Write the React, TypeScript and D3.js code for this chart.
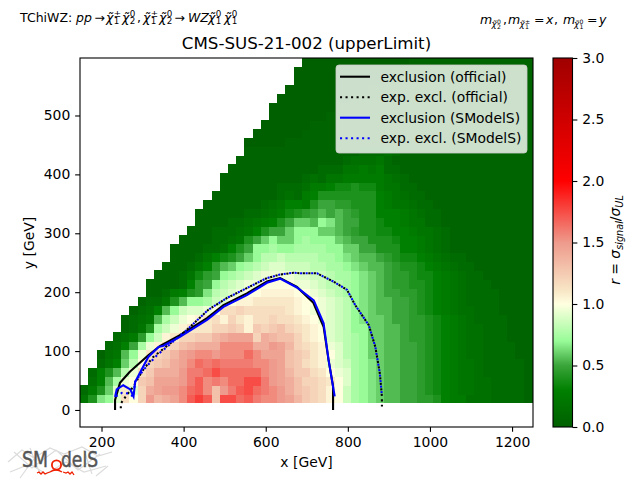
import React, { useEffect, useRef } from "react";
import * as d3 from "d3";

// r values, bottom row first. One char per cell, see levelChars
const levelChars = "0123456789abcdefghijklmnopqrstuvwxyzABCD";
const levelStep = 0.05;
const rowFirstCol = [0, 0, 1, 1, 2, 2, 3, 4, 5, 5, 6, 7, 8, 8, 9, 10, 11, 11, 12, 13, 14, 14, 15, 16, 17, 17, 18, 19, 20, 20, 21, 22, 23, 23, 24, 25, 26, 26, 27];
const heatRows = [
	"48deinkourstvyAyqzzxywvvutrponlkhfedcbbaa998655333222211",
	"258cimiostuuvxyvquwyzxwvusqponlkhfedcbbaa987654433222211",
	"36bfjkpqtttuwyvwvxxzzwutsqoonmkifedcbbaa987654433222211",
	"268bgjnpsssuwwxzxxxxxvutrppnmkjifedcbbaa987654432222211",
	"246cgkopqstvxwxwwwwvvutqpnmljihfedcbbaa987654432222211",
	"134bejmoprtuvvuvvvxvtttqpomlkigfeccbbaa987654332222111",
	"236afjlnoqrsssvvvvssutronmljigfeccbbaa987654332222111",
	"2359ehlmoopprstttosrqqomlkihgfeccbba9987654332221111",
	"1248fhjlmmmoopolpopqonmlkihgeeccbba9987654332221111",
	"1234bfhjklmnlomlnnonnmlkjihgedccbaa9987654322221111",
	"1236behiijknnonnnnnmlkjjihgedcbbaa9876543322211111",
	"12248beefhikllmmmmmlkkjihgedcbbaa9876543222211111",
	"1125689dghijkkllllkkjihgfedcbaa99876543222211111",
	"1111269aeghijjkkkkjjihggfedcba998876543222111111",
	"1112479aefghijjjjiihhgffedcba998776543221111111",
	"1112469bcefghiihhhggffedcbba988765432211111111",
	"11124678acegghggggffedcbba9877654322111111111",
	"111122368aeefeeffffeeccaa88866543211111111111",
	"111122348aceccefeeecbaa888766543211111111111",
	"1112223468aaceeeccba98877665443211111111111",
	"11112234568accbedbaa8876654422111111111111",
	"11111122345789ababa98866654322111111111111",
	"11111112346658aa9988865443221111111111111",
	"1111111123256888888865432211111111111111",
	"1111111222355677877544221111111111111111",
	"11111111112324455555432111111111111111111",
	"111111111112224454522111111111111111111",
	"1111111111111233342111111111111111111111",
	"1111111111111122232111111111111111111111",
	"00000111111111111111111111111111111111",
	"0000001111111111111111111111111111111",
	"00000011111111111111111111111111111",
	"000000011111111111111111111111111",
	"000000001111111111111111111111111",
	"00000000011111111111111111111111",
	"0000000000111111111111111111111",
	"000000000001111111111111111111",
	"000000000000111111111111111111",
	"00000000000001111111111111111",
];
const cellX0 = 148;
const cellW = 20;
const cellY0 = 12;
const cellH = 15;

const exclOfficial: [number, number][] = [[233, 0], [233, 17], [245, 46], [269, 65], [314, 93], [343, 109], [391, 127], [457, 156], [497, 178], [554, 198], [603, 218], [635, 224], [676, 209], [716, 182], [741, 141], [753, 85], [764, 40], [764, 0]];
const expOfficial: [number, number][] = [[247, 3], [247, 11], [261, 25], [278, 40], [298, 65], [326, 90], [367, 113], [408, 136], [460, 170], [505, 190], [554, 207], [603, 224], [635, 230], [668, 233], [684, 232], [725, 232], [765, 218], [798, 204], [818, 178], [851, 144], [867, 107], [878, 62], [883, 23], [883, 6]];
const exclSModelS: [number, number][] = [[233, 22], [237, 35], [253, 42], [270, 35], [278, 23], [282, 48], [314, 90], [339, 107], [351, 109], [391, 124], [457, 153], [497, 175], [554, 195], [603, 216], [635, 223], [676, 208], [717, 186], [741, 147], [753, 85], [768, 23]];
const expSModelS: [number, number][] = [[235, 23], [250, 29], [265, 28], [277, 23], [282, 48], [302, 68], [335, 93], [359, 107], [408, 136], [460, 170], [505, 190], [554, 207], [603, 224], [635, 230], [668, 233], [684, 232], [725, 232], [765, 218], [798, 204], [818, 178], [851, 144], [867, 107], [878, 62], [883, 23]];

const xTicks = [200, 400, 600, 800, 1000, 1200];
const yTicks = [0, 100, 200, 300, 400, 500];
const rTicks = [0, 0.5, 1, 1.5, 2, 2.5, 3];
const rStops = [0, 0.3, 0.5, 0.7, 1, 1.1, 1.5, 2, 3];
const rColors = ["#006000", "#008000", "#3aa53a", "#98fb98", "#ffffe0", "#f8e8c8", "#ee9a8c", "#ff0000", "#a00000"];

const legendItems = [
	{ label: "exclusion (official)", color: "#000", dash: "none" },
	{ label: "exp. excl. (official)", color: "#000", dash: "2.08 3.44" },
	{ label: "exclusion (SModelS)", color: "#0000ff", dash: "none" },
	{ label: "exp. excl. (SModelS)", color: "#0000ff", dash: "2.08 3.44" },
];

const font = "DejaVu Sans";
const left = 80;
const right = 533;
const top = 58;
const bottom = 427;
const barX0 = 553;
const barX1 = 572.5;

const x = d3.scaleLinear().domain([147.6, 1251]).range([left, right]);
const y = d3.scaleLinear().domain([-28.9, 597.6]).range([bottom, top]);
const rY = d3.scaleLinear().domain([0, 3]).range([bottom, top]);
const color = d3.scaleLinear<string>().domain(rStops).range(rColors).clamp(true);

const path = d3
	.line<[number, number]>()
	.x((d) => x(d[0]))
	.y((d) => y(d[1]));

// chi-tilde with stacked super and subscript, as tspans of one text
const chi = (px, py, sup, sub, size) => (
	<React.Fragment key={`${px}`}>
		<tspan x={px} y={py} fontSize={size} fontStyle="italic">χ̃</tspan>
		<tspan x={px + size * 0.62} y={py - size * 0.36} fontSize={size * 0.7}>{sup}</tspan>
		<tspan x={px + size * 0.62} y={py + size * 0.2} fontSize={size * 0.7}>{sub}</tspan>
	</React.Fragment>
);

const Logo = () => (
	<g>
		<path d="M8 462l14 -12l12 8l16 -10l14 6l18 -7l16 9l14 -4M10 472l20 -8l16 10l20 -12l18 10l22 -6M14 452l18 16l24 -18l22 20l22 -16M20 478l16 -22M96 476l12 -10M30 448l10 26M84 450l8 24" fill="none" stroke="#dcdcdc" strokeWidth={1.2} />
		<text x={22} y={467} fontFamily={font} fontSize={22} fill="#555" stroke="#555" strokeWidth={0.5} textLength={26} lengthAdjust="spacingAndGlyphs">SM</text>
		<text x={61} y={467} fontFamily={font} fontSize={22} fill="#555" stroke="#555" strokeWidth={0.5} textLength={37} lengthAdjust="spacingAndGlyphs">delS</text>
		<circle cx={56.5} cy={465} r={4.6} fill="none" stroke="#f02000" strokeWidth={1.8} />
		<path d="M37 473l2 -1l2 2l2 -2l2 2l2 -1l3 -1M50 472q6 -4 12 0M63 472l3 1l2 -1l2 2l2 -2l2 3" fill="none" stroke="#f02000" strokeWidth={1.3} />
	</g>
);

export default function App() {
	const xAxisRef = useRef(null);
	const yAxisRef = useRef(null);
	const rAxisRef = useRef(null);

	useEffect(() => {
		const style = (g) => {
			g.select(".domain").remove();
			g.selectAll("line").attr("stroke", "#000").attr("stroke-width", 1.1);
			g.selectAll("text").attr("font-family", font).attr("font-size", 13.9).attr("fill", "#000");
		};
		d3.select(xAxisRef.current)
			.call(d3.axisBottom(x).tickValues(xTicks).tickSize(4.86).tickPadding(4.86).tickFormat(d3.format("d")))
			.call(style);
		d3.select(yAxisRef.current)
			.call(d3.axisLeft(y).tickValues(yTicks).tickSize(4.86).tickPadding(4.86).tickFormat(d3.format("d")))
			.call(style);
		d3.select(rAxisRef.current)
			.call(d3.axisRight(rY).tickValues(rTicks).tickSize(4.86).tickPadding(4.86).tickFormat(d3.format(".1f")))
			.call(style);
	}, []);

	const cells = heatRows.flatMap((row, j) =>
		row.split("").map((ch, k) => {
			const col = rowFirstCol[j] + k;
			return { col, j, r: levelChars.indexOf(ch) * levelStep };
		}),
	);

	return (
		<svg width={640} height={480} style={{ position: "fixed", left: 0, top: 0, background: "#fff" }}>
			<defs>
				<clipPath id="plot">
					<rect x={left} y={top} width={right - left} height={bottom - top} />
				</clipPath>
				<linearGradient id="rbar" x1="0" y1="1" x2="0" y2="0">
					{rStops.map((s, i) => (
						<stop key={s} offset={s / 3} stopColor={rColors[i]} />
					))}
				</linearGradient>
			</defs>

			<g clipPath="url(#plot)" shapeRendering="crispEdges">
				{cells.map((c) => (
					<rect
						key={`${c.j}-${c.col}`}
						x={x(cellX0 + c.col * cellW)}
						y={y(cellY0 + (c.j + 1) * cellH)}
						width={x(cellX0 + (c.col + 1) * cellW) - x(cellX0 + c.col * cellW) + 0.5}
						height={y(cellY0 + c.j * cellH) - y(cellY0 + (c.j + 1) * cellH) + 0.5}
						fill={color(c.r)}
					/>
				))}
			</g>

			<g fill="none" strokeWidth={2.08}>
				<path d={path(exclOfficial)} stroke="#000" />
				<path d={path(expOfficial)} stroke="#000" strokeDasharray="2.08 3.44" />
				<path d={path(exclSModelS)} stroke="#0000ff" />
				<path d={path(expSModelS)} stroke="#0000ff" strokeDasharray="2.08 3.44" />
			</g>

			<rect x={336} y={65} width={191} height={88} rx={3} fill="#fff" fillOpacity={0.8} stroke="#ccc" strokeOpacity={0.8} />
			{legendItems.map((item, i) => (
				<g key={item.label} transform={`translate(0,${76.7 + i * 20.5})`}>
					<line x1={340} x2={370} y1={0} y2={0} stroke={item.color} strokeWidth={2.08} strokeDasharray={item.dash} />
					<text x={380.5} y={4.8} fontFamily={font} fontSize={13.9} fill="#000">{item.label}</text>
				</g>
			))}

			<rect x={left} y={top} width={right - left} height={bottom - top} fill="none" stroke="#000" strokeWidth={1.1} />
			<g ref={xAxisRef} transform={`translate(0,${bottom})`} />
			<g ref={yAxisRef} transform={`translate(${left},0)`} />

			<rect x={barX0} y={top} width={barX1 - barX0} height={bottom - top} fill="url(#rbar)" stroke="#000" strokeWidth={1.1} />
			<g ref={rAxisRef} transform={`translate(${barX1},0)`} />

			<text x={306.5} y={49} textAnchor="middle" fontFamily={font} fontSize={16.67} fill="#000">CMS-SUS-21-002 (upperLimit)</text>
			<text x={306.5} y={467} textAnchor="middle" fontFamily={font} fontSize={13.9} fill="#000">x [GeV]</text>
			<text transform="translate(34,243) rotate(-90)" textAnchor="middle" fontFamily={font} fontSize={13.9} fill="#000">y [GeV]</text>
			<text transform="translate(620,240) rotate(-90)" textAnchor="middle" fontFamily={font} fontSize={13.9} fill="#000">
				<tspan fontStyle="italic">r</tspan> = <tspan fontStyle="italic">σ</tspan>
				<tspan fontStyle="italic" fontSize={9.7} dy={2.5}>signal</tspan>
				<tspan dy={-2.5}>/</tspan>
				<tspan fontStyle="italic">σ</tspan>
				<tspan fontSize={9.7} dy={2.5} fontStyle="italic">UL</tspan>
			</text>

			<text fontFamily={font} fontSize={12.5} fill="#000">
				<tspan x={20} y={21.5}>TChiWZ:</tspan>
				<tspan x={76} y={21.5} fontStyle="italic">pp</tspan>
				<tspan x={94.5} y={21.5}>→</tspan>
				{chi(106, 21.5, "±", "1", 12.5)}
				{chi(122, 21.5, "0", "2", 12.5)}
				<tspan x={137} y={21.5}>,</tspan>
				{chi(143, 21.5, "±", "1", 12.5)}
				{chi(159, 21.5, "0", "2", 12.5)}
				<tspan x={174.5} y={21.5}>→</tspan>
				<tspan x={188} y={21.5} fontStyle="italic">WZ</tspan>
				{chi(208, 21.5, "0", "1", 12.5)}
				{chi(224, 21.5, "0", "1", 12.5)}
			</text>

			<text fontFamily={font} fontSize={12.5} fill="#000">
				<tspan x={480} y={24} fontStyle="italic">m</tspan>
				{chi(491.5, 27, "0", "2", 8.75)}
				<tspan x={503} y={24}>,</tspan>
				<tspan x={508} y={24} fontStyle="italic">m</tspan>
				{chi(519.5, 27, "±", "1", 8.75)}
				<tspan x={534} y={24}>=</tspan>
				<tspan x={546} y={24} fontStyle="italic">x</tspan>
				<tspan x={554} y={24}>,</tspan>
				<tspan x={563} y={24} fontStyle="italic">m</tspan>
				{chi(574, 27, "0", "1", 8.75)}
				<tspan x={587} y={24}>=</tspan>
				<tspan x={599} y={24} fontStyle="italic">y</tspan>
			</text>

			<Logo />
		</svg>
	);
}
